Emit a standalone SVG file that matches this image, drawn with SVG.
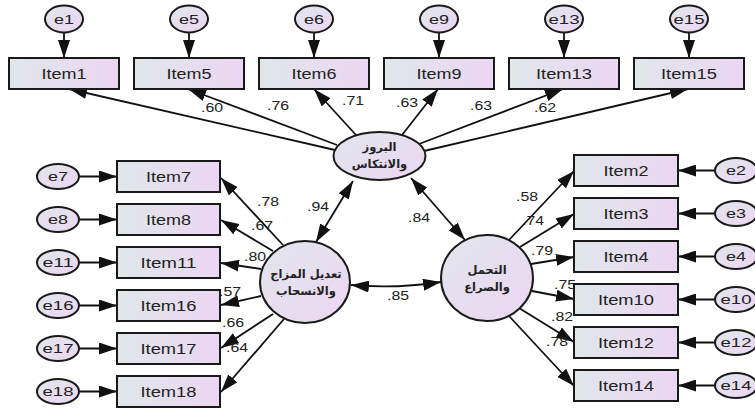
<svg xmlns="http://www.w3.org/2000/svg" width="755" height="410" viewBox="0 0 755 410">
<defs>
<linearGradient id="gb" x1="0" y1="0" x2="1" y2="0">
<stop offset="0" stop-color="#dfe7ea"/>
<stop offset="1" stop-color="#ecd6f2"/>
</linearGradient>
<linearGradient id="ge" x1="0" y1="0" x2="1" y2="1">
<stop offset="0" stop-color="#e0e6ec"/>
<stop offset="1" stop-color="#edd6f2"/>
</linearGradient>
<marker id="ah" markerUnits="userSpaceOnUse" markerWidth="18" markerHeight="12" refX="18" refY="6" orient="auto-start-reverse" viewBox="0 0 18 12">
<path d="M0,0 L18,6 L0,12 z" fill="#111"/>
</marker>
<style>
.box{fill:url(#gb);stroke:#1a1a1a;stroke-width:2}
.ell{fill:url(#ge);stroke:#1a1a1a;stroke-width:2}
.t{font-family:"Liberation Sans",Arial,sans-serif;font-size:14px;fill:#222;text-anchor:middle}
.e{font-family:"Liberation Sans",Arial,sans-serif;font-size:13px;fill:#222;text-anchor:middle}
.ar{font-family:"DejaVu Sans",sans-serif;font-size:11.5px;font-weight:bold;fill:#222;text-anchor:middle}
.l{font-family:"Liberation Sans",Arial,sans-serif;font-size:12px;fill:#222;text-anchor:middle}
.c{stroke:#111;stroke-width:1.8;fill:none;marker-end:url(#ah)}
.d{stroke:#111;stroke-width:1.8;fill:none;marker-end:url(#ah);marker-start:url(#ah)}
</style>
</defs>

<g id="connectors">
<line class="c" x1="64" y1="32" x2="64" y2="58"/>
<line class="c" x1="189" y1="32" x2="189" y2="58"/>
<line class="c" x1="314" y1="32" x2="314" y2="58"/>
<line class="c" x1="439" y1="32" x2="439" y2="58"/>
<line class="c" x1="564" y1="32" x2="564" y2="58"/>
<line class="c" x1="689" y1="32" x2="689" y2="58"/>
<line class="c" x1="335" y1="150" x2="69" y2="89"/>
<line class="c" x1="337" y1="145" x2="188" y2="89"/>
<line class="c" x1="356" y1="135" x2="314" y2="89"/>
<line class="c" x1="402" y1="135" x2="438" y2="89"/>
<line class="c" x1="419" y1="144" x2="563" y2="89"/>
<line class="c" x1="424" y1="151" x2="688" y2="89"/>
<line class="c" x1="79" y1="176.5" x2="117" y2="176.5"/>
<line class="c" x1="79" y1="219.5" x2="117" y2="219.5"/>
<line class="c" x1="79" y1="262.5" x2="117" y2="262.5"/>
<line class="c" x1="79" y1="305.5" x2="117" y2="305.5"/>
<line class="c" x1="79" y1="348.5" x2="117" y2="348.5"/>
<line class="c" x1="79" y1="391.5" x2="117" y2="391.5"/>
<line class="c" x1="283" y1="245" x2="221" y2="178"/>
<line class="c" x1="273" y1="251" x2="221" y2="220"/>
<line class="c" x1="261" y1="269" x2="221" y2="263"/>
<line class="c" x1="261" y1="296" x2="221" y2="305"/>
<line class="c" x1="273" y1="314" x2="221" y2="348"/>
<line class="c" x1="284" y1="319" x2="221" y2="392"/>
<line class="c" x1="715" y1="170.5" x2="678" y2="170.5"/>
<line class="c" x1="715" y1="213.5" x2="678" y2="213.5"/>
<line class="c" x1="715" y1="256.5" x2="678" y2="256.5"/>
<line class="c" x1="715" y1="299.5" x2="678" y2="299.5"/>
<line class="c" x1="715" y1="342.5" x2="678" y2="342.5"/>
<line class="c" x1="715" y1="385.5" x2="678" y2="385.5"/>
<line class="c" x1="509" y1="240" x2="574" y2="171"/>
<line class="c" x1="520" y1="247" x2="574" y2="214"/>
<line class="c" x1="531" y1="264" x2="574" y2="257"/>
<line class="c" x1="532" y1="291" x2="574" y2="299"/>
<line class="c" x1="519" y1="308" x2="574" y2="342"/>
<line class="c" x1="509" y1="316" x2="574" y2="386"/>
<line class="d" x1="316" y1="242" x2="353" y2="181"/>
<line class="d" x1="411" y1="178" x2="465" y2="240"/>
<path class="d" d="M351,285 Q396,289 441,282"/>
</g>

<g id="labels">
<text class="l" x="212" y="112" textLength="22" lengthAdjust="spacingAndGlyphs">.60</text>
<text class="l" x="278" y="110" textLength="22" lengthAdjust="spacingAndGlyphs">.76</text>
<text class="l" x="353" y="105" textLength="22" lengthAdjust="spacingAndGlyphs">.71</text>
<text class="l" x="407" y="107" textLength="22" lengthAdjust="spacingAndGlyphs">.63</text>
<text class="l" x="481" y="110" textLength="22" lengthAdjust="spacingAndGlyphs">.63</text>
<text class="l" x="545" y="112" textLength="22" lengthAdjust="spacingAndGlyphs">.62</text>
<text class="l" x="268" y="206" textLength="22" lengthAdjust="spacingAndGlyphs">.78</text>
<text class="l" x="262" y="230" textLength="22" lengthAdjust="spacingAndGlyphs">.67</text>
<text class="l" x="255" y="261" textLength="22" lengthAdjust="spacingAndGlyphs">.80</text>
<text class="l" x="230" y="296" textLength="22" lengthAdjust="spacingAndGlyphs">.57</text>
<text class="l" x="233" y="327" textLength="22" lengthAdjust="spacingAndGlyphs">.66</text>
<text class="l" x="237" y="352" textLength="22" lengthAdjust="spacingAndGlyphs">.64</text>
<text class="l" x="527" y="201" textLength="22" lengthAdjust="spacingAndGlyphs">.58</text>
<text class="l" x="533" y="225" textLength="22" lengthAdjust="spacingAndGlyphs">.74</text>
<text class="l" x="542" y="255" textLength="22" lengthAdjust="spacingAndGlyphs">.79</text>
<text class="l" x="565" y="289" textLength="22" lengthAdjust="spacingAndGlyphs">.75</text>
<text class="l" x="562" y="321" textLength="22" lengthAdjust="spacingAndGlyphs">.82</text>
<text class="l" x="557" y="346" textLength="22" lengthAdjust="spacingAndGlyphs">.78</text>
<text class="l" x="318" y="211" textLength="22" lengthAdjust="spacingAndGlyphs">.94</text>
<text class="l" x="419" y="222" textLength="22" lengthAdjust="spacingAndGlyphs">.84</text>
<text class="l" x="398" y="300" textLength="22" lengthAdjust="spacingAndGlyphs">.85</text>
</g>

<g id="e1"><ellipse class="ell" cx="64" cy="19" rx="19" ry="13.5"/><text class="e" x="64" y="24" textLength="20" lengthAdjust="spacingAndGlyphs">e1</text></g>
<g id="e5"><ellipse class="ell" cx="189" cy="19" rx="19" ry="13.5"/><text class="e" x="189" y="24" textLength="20" lengthAdjust="spacingAndGlyphs">e5</text></g>
<g id="e6"><ellipse class="ell" cx="314" cy="19" rx="19" ry="13.5"/><text class="e" x="314" y="24" textLength="20" lengthAdjust="spacingAndGlyphs">e6</text></g>
<g id="e9"><ellipse class="ell" cx="439" cy="19" rx="19" ry="13.5"/><text class="e" x="439" y="24" textLength="20" lengthAdjust="spacingAndGlyphs">e9</text></g>
<g id="e13"><ellipse class="ell" cx="564" cy="19" rx="19" ry="13.5"/><text class="e" x="564" y="24" textLength="31" lengthAdjust="spacingAndGlyphs">e13</text></g>
<g id="e15"><ellipse class="ell" cx="689" cy="19" rx="19" ry="13.5"/><text class="e" x="689" y="24" textLength="31" lengthAdjust="spacingAndGlyphs">e15</text></g>

<g id="item1"><rect class="box" x="9" y="58" width="110" height="31"/><text class="t" x="64" y="78.5" textLength="45" lengthAdjust="spacingAndGlyphs">Item1</text></g>
<g id="item5"><rect class="box" x="134" y="58" width="110" height="31"/><text class="t" x="189" y="78.5" textLength="45" lengthAdjust="spacingAndGlyphs">Item5</text></g>
<g id="item6"><rect class="box" x="259" y="58" width="110" height="31"/><text class="t" x="314" y="78.5" textLength="45" lengthAdjust="spacingAndGlyphs">Item6</text></g>
<g id="item9"><rect class="box" x="384" y="58" width="110" height="31"/><text class="t" x="439" y="78.5" textLength="45" lengthAdjust="spacingAndGlyphs">Item9</text></g>
<g id="item13"><rect class="box" x="509" y="58" width="110" height="31"/><text class="t" x="564" y="78.5" textLength="56" lengthAdjust="spacingAndGlyphs">Item13</text></g>
<g id="item15"><rect class="box" x="634" y="58" width="110" height="31"/><text class="t" x="689" y="78.5" textLength="56" lengthAdjust="spacingAndGlyphs">Item15</text></g>

<g id="e7"><ellipse class="ell" cx="58" cy="176.5" rx="21" ry="12.5"/><text class="e" x="58" y="181" textLength="20" lengthAdjust="spacingAndGlyphs">e7</text></g>
<g id="e8"><ellipse class="ell" cx="58" cy="219.5" rx="21" ry="12.5"/><text class="e" x="58" y="224" textLength="20" lengthAdjust="spacingAndGlyphs">e8</text></g>
<g id="e11"><ellipse class="ell" cx="58" cy="262.5" rx="21" ry="12.5"/><text class="e" x="58" y="267" textLength="31" lengthAdjust="spacingAndGlyphs">e11</text></g>
<g id="e16"><ellipse class="ell" cx="58" cy="305.5" rx="21" ry="12.5"/><text class="e" x="58" y="310" textLength="31" lengthAdjust="spacingAndGlyphs">e16</text></g>
<g id="e17"><ellipse class="ell" cx="58" cy="348.5" rx="21" ry="12.5"/><text class="e" x="58" y="353" textLength="31" lengthAdjust="spacingAndGlyphs">e17</text></g>
<g id="e18"><ellipse class="ell" cx="58" cy="391.5" rx="21" ry="12.5"/><text class="e" x="58" y="396" textLength="31" lengthAdjust="spacingAndGlyphs">e18</text></g>

<g id="item7"><rect class="box" x="117" y="161" width="103" height="31"/><text class="t" x="168.5" y="181.5" textLength="45" lengthAdjust="spacingAndGlyphs">Item7</text></g>
<g id="item8"><rect class="box" x="117" y="204" width="103" height="31"/><text class="t" x="168.5" y="224.5" textLength="45" lengthAdjust="spacingAndGlyphs">Item8</text></g>
<g id="item11"><rect class="box" x="117" y="247" width="103" height="31"/><text class="t" x="168.5" y="267.5" textLength="56" lengthAdjust="spacingAndGlyphs">Item11</text></g>
<g id="item16"><rect class="box" x="117" y="290" width="103" height="31"/><text class="t" x="168.5" y="310.5" textLength="56" lengthAdjust="spacingAndGlyphs">Item16</text></g>
<g id="item17"><rect class="box" x="117" y="333" width="103" height="31"/><text class="t" x="168.5" y="353.5" textLength="56" lengthAdjust="spacingAndGlyphs">Item17</text></g>
<g id="item18"><rect class="box" x="117" y="376" width="103" height="31"/><text class="t" x="168.5" y="396.5" textLength="56" lengthAdjust="spacingAndGlyphs">Item18</text></g>

<g id="item2"><rect class="box" x="574" y="155" width="104" height="31"/><text class="t" x="626" y="175.5" textLength="45" lengthAdjust="spacingAndGlyphs">Item2</text></g>
<g id="item3"><rect class="box" x="574" y="198" width="104" height="31"/><text class="t" x="626" y="218.5" textLength="45" lengthAdjust="spacingAndGlyphs">Item3</text></g>
<g id="item4"><rect class="box" x="574" y="241" width="104" height="31"/><text class="t" x="626" y="261.5" textLength="45" lengthAdjust="spacingAndGlyphs">Item4</text></g>
<g id="item10"><rect class="box" x="574" y="284" width="104" height="31"/><text class="t" x="626" y="304.5" textLength="56" lengthAdjust="spacingAndGlyphs">Item10</text></g>
<g id="item12"><rect class="box" x="574" y="327" width="104" height="31"/><text class="t" x="626" y="347.5" textLength="56" lengthAdjust="spacingAndGlyphs">Item12</text></g>
<g id="item14"><rect class="box" x="574" y="370" width="104" height="31"/><text class="t" x="626" y="390.5" textLength="56" lengthAdjust="spacingAndGlyphs">Item14</text></g>

<g id="e2"><ellipse class="ell" cx="736" cy="170.5" rx="21" ry="12.5"/><text class="e" x="736" y="175" textLength="20" lengthAdjust="spacingAndGlyphs">e2</text></g>
<g id="e3"><ellipse class="ell" cx="736" cy="213.5" rx="21" ry="12.5"/><text class="e" x="736" y="218" textLength="20" lengthAdjust="spacingAndGlyphs">e3</text></g>
<g id="e4"><ellipse class="ell" cx="736" cy="256.5" rx="21" ry="12.5"/><text class="e" x="736" y="261" textLength="20" lengthAdjust="spacingAndGlyphs">e4</text></g>
<g id="e10"><ellipse class="ell" cx="736" cy="299.5" rx="21" ry="12.5"/><text class="e" x="736" y="304" textLength="31" lengthAdjust="spacingAndGlyphs">e10</text></g>
<g id="e12"><ellipse class="ell" cx="736" cy="342.5" rx="21" ry="12.5"/><text class="e" x="736" y="347" textLength="31" lengthAdjust="spacingAndGlyphs">e12</text></g>
<g id="e14"><ellipse class="ell" cx="736" cy="385.5" rx="21" ry="12.5"/><text class="e" x="736" y="390" textLength="31" lengthAdjust="spacingAndGlyphs">e14</text></g>

<g id="f_buruz"><ellipse class="ell" cx="379.5" cy="156" rx="46" ry="24"/><text class="ar" x="379.5" y="151">البروز</text><text class="ar" x="379.5" y="168">والانتكاس</text></g>
<g id="f_mood"><ellipse class="ell" cx="305" cy="282" rx="45" ry="41"/><text class="ar" x="306" y="278">تعديل المزاج</text><text class="ar" x="306" y="295">والانسحاب</text></g>
<g id="f_tol"><ellipse class="ell" cx="487" cy="278" rx="46" ry="43"/><text class="ar" x="487" y="274">التحمل</text><text class="ar" x="487" y="291">والصراع</text></g>
</svg>
